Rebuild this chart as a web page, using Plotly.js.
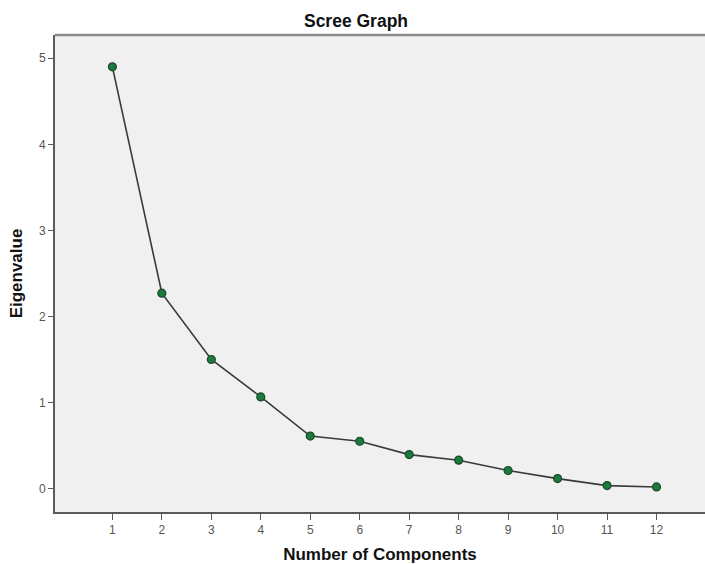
<!DOCTYPE html>
<html>
<head>
<meta charset="utf-8">
<script src="https://cdn.plot.ly/plotly-3.0.1.min.js"></script>
<style>html,body{margin:0;padding:0;background:#fff;}#chart{width:705px;height:564px;}</style>
</head>
<body>
<div id="chart"></div>
<script>
var components = [1, 2, 3, 4, 5, 6, 7, 8, 9, 10, 11, 12];
var eigenvalues = [4.90, 2.27, 1.50, 1.065, 0.61, 0.55, 0.395, 0.33, 0.21, 0.116, 0.035, 0.019];
var xTickLabels = ["1","2","3","4","5","6","7","8","9","10","11","12"];
var yTickValues = [0, 1, 2, 3, 4, 5];

var trace = {
  x: components,
  y: eigenvalues,
  type: 'scatter',
  mode: 'lines+markers',
  line: {color: '#3a3a3a', width: 1.6},
  marker: {color: '#1b7a3e', size: 8, line: {color: '#1f4a2a', width: 1.2}},
  hoverinfo: 'x+y'
};

var layout = {
  width: 705, height: 564,
  margin: {l: 55, r: 0, t: 35, b: 52},
  paper_bgcolor: '#ffffff',
  plot_bgcolor: '#f0f0f0',
  showlegend: false,
  font: {family: 'Liberation Sans, Arial, sans-serif', color: '#555555', size: 12},
  title: {
    text: '<b>Scree Graph</b>',
    font: {family: 'Liberation Sans, Arial, sans-serif', size: 17.5, color: '#111111'},
    x: 356/705, xref: 'container', xanchor: 'center',
    y: 1 - 20.5/564, yref: 'container', yanchor: 'middle'
  },
  xaxis: {
    range: [-0.16, 12.98],
    tickmode: 'array', tickvals: components, ticktext: xTickLabels,
    showgrid: false, zeroline: false,
    showline: true, linecolor: '#5a5a5a', linewidth: 2,
    ticks: 'outside', ticklen: 6, tickcolor: '#5a5a5a', tickwidth: 1,
    tickfont: {size: 12, color: '#555555'},
    title: {text: '<b>Number of Components</b>', font: {size: 17, color: '#111111'}, standoff: 12}
  },
  yaxis: {
    range: [-0.272, 5.27],
    tickmode: 'array', tickvals: yTickValues,
    showgrid: false, zeroline: false,
    showline: true, linecolor: '#5a5a5a', linewidth: 2, mirror: false,
    ticks: 'outside', ticklen: 5, tickcolor: '#5a5a5a', tickwidth: 1,
    tickfont: {size: 12, color: '#555555'},
    title: {text: '<b>Eigenvalue</b>', font: {size: 17, color: '#111111'}, standoff: 12}
  },
  shapes: [{
    type: 'line', xref: 'paper', yref: 'paper', x0: 0, x1: 1, y0: 1, y1: 1,
    line: {color: '#8a8a8a', width: 2.5}
  }]
};

Plotly.newPlot('chart', [trace], layout, {displayModeBar: false, staticPlot: true});
</script>
</body>
</html>
